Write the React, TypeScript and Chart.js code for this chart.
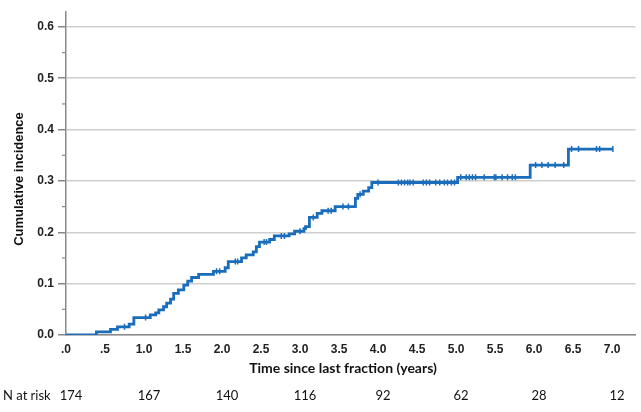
import React, { useEffect, useRef } from "react";
import { Chart, registerables } from "chart.js";

Chart.register(...registerables);

// Cumulative incidence step function: time (years) where the curve jumps, and value after jump
const eventTimes = [0, 0.39, 0.57, 0.66, 0.81, 0.87, 1.08, 1.15, 1.19, 1.25, 1.29, 1.34, 1.38, 1.44, 1.51, 1.56, 1.61, 1.70, 1.89, 2.04, 2.08, 2.25, 2.31, 2.40, 2.44, 2.48, 2.61, 2.67, 2.86, 2.93, 3.05, 3.07, 3.12, 3.22, 3.28, 3.45, 3.71, 3.74, 3.81, 3.88, 3.92, 5.02, 5.95, 6.44, 7.01];
const eventValues = [0, 0.006, 0.011, 0.016, 0.021, 0.034, 0.039, 0.043, 0.049, 0.055, 0.062, 0.070, 0.081, 0.088, 0.097, 0.105, 0.112, 0.118, 0.124, 0.131, 0.143, 0.150, 0.156, 0.162, 0.172, 0.181, 0.186, 0.193, 0.197, 0.202, 0.207, 0.211, 0.229, 0.237, 0.242, 0.250, 0.266, 0.274, 0.280, 0.287, 0.297, 0.307, 0.331, 0.362, 0.362];

// Censoring times (tick marks)
const censorTimes = [0.75, 1.02, 1.93, 1.97, 2.17, 2.20, 2.54, 2.57, 2.76, 2.80, 3.00, 3.17, 3.36, 3.40, 3.55, 3.62, 3.77, 4.00, 4.26, 4.30, 4.34, 4.38, 4.41, 4.45, 4.58, 4.62, 4.66, 4.74, 4.79, 4.85, 4.89, 4.94, 4.98, 5.06, 5.13, 5.17, 5.21, 5.25, 5.36, 5.49, 5.51, 5.59, 5.66, 5.72, 5.76, 6.02, 6.10, 6.18, 6.27, 6.38, 6.48, 6.57, 6.80, 6.84, 7.01];

// Number at risk
const riskTimes = [0, 1, 2, 3, 4, 5, 6, 7];
const riskCounts = [174, 167, 140, 116, 92, 62, 28, 12];

const xTitle = "Time since last fraction (years)";
const yTitle = "Cumulative incidence";
const riskLabel = "N at risk";

function valueAt(t: number): number {
  let v = 0;
  for (let i = 0; i < eventTimes.length; i++) {
    if (eventTimes[i] <= t) v = eventValues[i];
  }
  return v;
}

const BLUE = "#1a6dba";

export default function App() {
  const ref = useRef<HTMLCanvasElement | null>(null);

  useEffect(() => {
    if (!ref.current) return;
    const extras = {
      id: "extras",
      afterDraw(chart: any) {
        const ctx = chart.ctx;
        const ys = chart.scales.y;
        const xs = chart.scales.x;
        ctx.save();
        // minor ticks on y axis
        ctx.strokeStyle = "#888";
        ctx.lineWidth = 1.2;
        for (let v = 0.05; v < 0.6; v += 0.1) {
          const py = ys.getPixelForValue(v);
          ctx.beginPath();
          ctx.moveTo(xs.left - 4, py);
          ctx.lineTo(xs.left, py);
          ctx.stroke();
        }
        // y title
        ctx.fillStyle = "#111";
        ctx.font = "bold 13px 'Liberation Sans', Arial, sans-serif";
        ctx.textAlign = "center";
        ctx.textBaseline = "middle";
        ctx.translate(19, 179);
        ctx.rotate(-Math.PI / 2);
        ctx.fillText(yTitle, 0, 0);
        ctx.restore();

        ctx.save();
        ctx.fillStyle = "#111";
        ctx.font = "bold 14px Lato, sans-serif";
        ctx.textAlign = "center";
        ctx.textBaseline = "middle";
        ctx.fillText(xTitle, 343, 368);

        ctx.font = "13px Lato, sans-serif";
        ctx.textAlign = "left";
        ctx.fillText(riskLabel, 3, 396);
        ctx.textAlign = "center";
        riskTimes.forEach((t, i) => {
          const px = xs.getPixelForValue(t) + 5;
          ctx.fillText(String(riskCounts[i]), px, 396);
        });
        ctx.restore();
      },
    };

    const chart = new Chart(ref.current, {
      type: "line",
      data: {
        datasets: [
          {
            data: eventTimes.map((t, i) => ({ x: t, y: eventValues[i] })),
            borderColor: BLUE,
            borderWidth: 2.8,
            stepped: true,
            pointRadius: 0,
            fill: false,
          },
          {
            data: censorTimes.map((t) => ({ x: t, y: valueAt(t) })),
            showLine: false,
            pointStyle: "line",
            rotation: 90,
            pointRadius: 3,
            pointBorderColor: BLUE,
            pointBorderWidth: 1.5,
            borderColor: BLUE,
          },
        ],
      },
      options: {
        animation: false,
        responsive: false,
        events: [],
        layout: { padding: { top: 12, right: 0, left: 0, bottom: 0 } },
        plugins: { legend: { display: false }, tooltip: { enabled: false } },
        scales: {
          x: {
            type: "linear",
            min: 0,
            max: 7.3,
            afterFit: (s: any) => {
              s.height = 77;
            },
            border: { display: true, color: "#8a8a8a", width: 1.5 },
            grid: { display: false, drawTicks: false },
            ticks: {
              stepSize: 0.5,
              includeBounds: false,
              padding: 7,
              color: "#222",
              font: { family: "'Liberation Sans', Arial, sans-serif", weight: "bold", size: 12 },
              maxRotation: 0,
              autoSkip: false,
              callback: (v: any) => {
                const n = Number(v);
                const s = n.toFixed(1);
                return n < 1 ? s.slice(1) : s;
              },
            },
          },
          y: {
            min: 0,
            max: 0.629,
            afterFit: (s: any) => {
              s.width = 66;
            },
            border: { display: true, color: "#8a8a8a", width: 1.5 },
            grid: {
              color: "#cfcfcf",
              lineWidth: 1.5,
              tickColor: "#888",
              tickLength: 8,
            },
            ticks: {
              stepSize: 0.1,
              includeBounds: false,
              padding: 4,
              color: "#222",
              font: { family: "'Liberation Sans', Arial, sans-serif", weight: "bold", size: 12 },
              callback: (v: any) => Number(v).toFixed(1),
            },
          },
        },
      },
      plugins: [extras],
    } as any);
    return () => chart.destroy();
  }, []);

  return (
    <div style={{ position: "absolute", left: 0, top: 0, width: 641, height: 412, background: "#fff" }}>
      <canvas ref={ref} width={641} height={412} style={{ width: 641, height: 412 }} />
    </div>
  );
}
